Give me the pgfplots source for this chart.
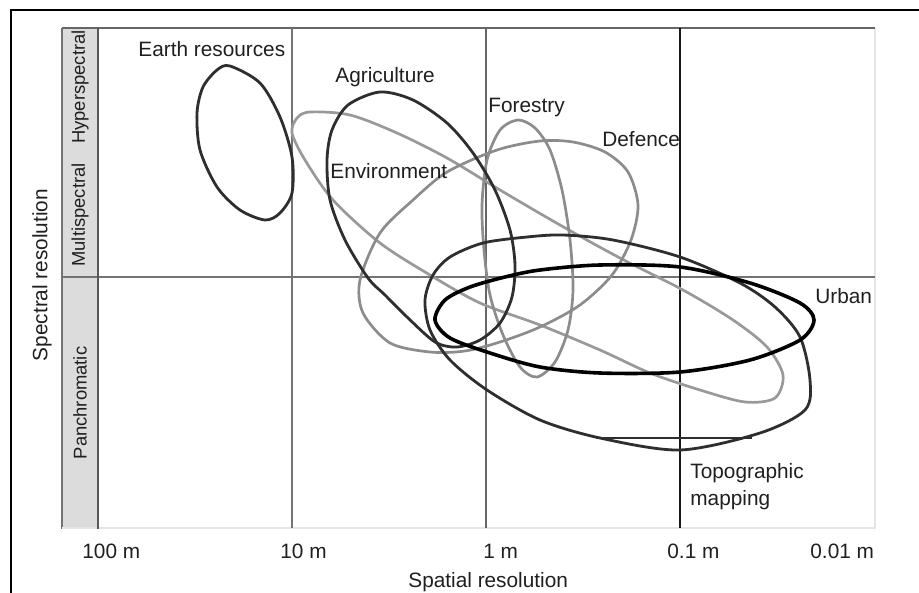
\documentclass[border=0pt]{standalone}
\usepackage{fontspec}
\setmainfont{Liberation Sans}
\usepackage{pgfplots}
\pgfplotsset{compat=1.18}
\definecolor{dk}{HTML}{2E2E2E}
\definecolor{gr}{HTML}{8C8C8C}
\definecolor{envgr}{HTML}{999999}
\definecolor{band}{HTML}{DCDCDC}
\tikzset{
  lbl/.style={font=\fontsize{10.4}{12.5}\selectfont, inner sep=0pt, text=black!88},
  blbl/.style={font=\fontsize{9.2}{11}\selectfont, inner sep=0pt, rotate=90, text=black!88},
}
\begin{document}
\begin{tikzpicture}
\useasboundingbox (-31pt,-32.5pt) rectangle (428.5pt,264pt);
\begin{axis}[
  scale only axis, width=406.5pt, height=250pt,
  xmin=62, xmax=875, ymin=28, ymax=528, y dir=reverse,
  axis lines=none, ticks=none, clip=false,
]
% outer frame
\draw[black, line width=1.1pt] (axis cs:11,593) -- (axis cs:11,10) -- (axis cs:919,10);
% band
\fill[band] (axis cs:62,28) rectangle (axis cs:98,528);
\draw[black!55, line width=1pt] (axis cs:62,28) -- (axis cs:62,529);
% borders and grid
\draw[black!10, line width=0.8pt] (axis cs:62,528) -- (axis cs:875,528) -- (axis cs:875,28);
\draw[black!60, line width=1pt] (axis cs:62,28) -- (axis cs:875,28);
\draw[black!55, line width=1pt] (axis cs:62,277) -- (axis cs:875,277);
\draw[black!65, line width=1.1pt] (axis cs:98,28) -- (axis cs:98,529);
\draw[black!55, line width=0.8pt] (axis cs:292,28) -- (axis cs:292,528);
\draw[black!60, line width=0.8pt] (axis cs:486,28) -- (axis cs:486,528);
\draw[black!90, line width=0.9pt] (axis cs:680,28) -- (axis cs:680,528);

% Environment
\addplot[smooth cycle, mark=none, draw=envgr, line width=1.35pt] coordinates {
(310,112) (350,115) (397,133) (447,158) (500,190) (560,225) (620,258) (683,290)
(733,320) (767,347) (783,375) (775,398) (745,402) (700,390) (650,373) (600,350)
(540,325) (480,303) (430,275) (380,243) (333,200) (305,160) (292,133) (297,118)};
% Defence
\addplot[smooth cycle, mark=none, draw=gr, line width=1.35pt] coordinates {
(573,142) (605,152) (628,172) (638,205) (631,240) (612,275) (580,305) (540,327)
(500,342) (465,351) (430,352) (390,343) (363,313) (360,280) (380,233) (413,200)
(447,172) (497,150) (540,141)};
% Forestry
\addplot[smooth cycle, mark=none, draw=gr, line width=1.35pt] coordinates {
(518,120) (535,128) (550,150) (562,190) (570,240) (573,290) (568,330) (555,362)
(537,377) (520,367) (503,335) (490,295) (484,250) (482,205) (487,160) (500,130)};
% Earth resources
\addplot[smooth cycle, mark=none, draw=dk, line width=1.4pt] coordinates {
(230,66) (260,83) (280,117) (292,157) (292,193) (280,213) (265,220) (240,210)
(217,187) (200,150) (197,113) (203,87) (217,70)};
% Agriculture
\addplot[smooth cycle, mark=none, draw=dk, line width=1.4pt] coordinates {
(380,92) (413,100) (447,123) (473,153) (495,190) (510,230) (515,265) (512,297)
(500,323) (480,340) (457,347) (435,342) (407,317) (385,295) (368,278) (345,240)
(330,200) (327,160) (332,130) (348,105)};
% Topographic mapping
\addplot[smooth cycle, mark=none, draw=dk, line width=1.4pt] coordinates {
(425,300) (433,275) (450,257) (483,243) (527,237) (563,235) (613,240) (680,257)
(740,283) (775,307) (800,337) (810,380) (805,410) (760,433) (680,450) (600,438)
(540,420) (487,390) (450,360) (430,330)};
\addplot[mark=none, draw=dk, line width=1.4pt] coordinates {(596,438) (752,438)};
% Urban
\addplot[smooth cycle, mark=none, draw=black, line width=1.8pt] coordinates {
(435,320) (445,300) (470,287) (505,277) (540,270) (600,265) (680,267) (750,283)
(800,303) (814,320) (800,340) (750,360) (680,372) (600,373) (540,367) (490,353)
(450,338)};

% labels
\node[lbl, anchor=base west] at (axis cs:138,57) {Earth resources};
\node[lbl, anchor=base west] at (axis cs:335,83) {Agriculture};
\node[lbl, anchor=base west] at (axis cs:330,178) {Environment};
\node[lbl, anchor=base west] at (axis cs:488,113) {Forestry};
\node[lbl, anchor=base west] at (axis cs:602,147) {Defence};
\node[lbl, anchor=base west] at (axis cs:815,303) {Urban};
\node[lbl, anchor=base west] at (axis cs:690,478) {Topographic};
\node[lbl, anchor=base west] at (axis cs:690,505) {mapping};
% tick labels
\node[lbl, anchor=base west] at (axis cs:82,558) {100 m};
\node[lbl, anchor=base west] at (axis cs:280,558) {10 m};
\node[lbl, anchor=base west] at (axis cs:483,558) {1 m};
\node[lbl, anchor=base west] at (axis cs:667,558) {0.1 m};
\node[lbl, anchor=base west] at (axis cs:810,558) {0.01 m};
% axis titles
\node[lbl, anchor=base west] at (axis cs:408,587) {Spatial resolution};
\node[lbl, rotate=90] at (axis cs:42,275) {Spectral resolution};
% band labels
\node[blbl] at (axis cs:80,87) {Hyperspectral};
\node[blbl] at (axis cs:80,215) {Multispectral};
\node[blbl] at (axis cs:80,403) {Panchromatic};
\end{axis}
\end{tikzpicture}
\end{document}
